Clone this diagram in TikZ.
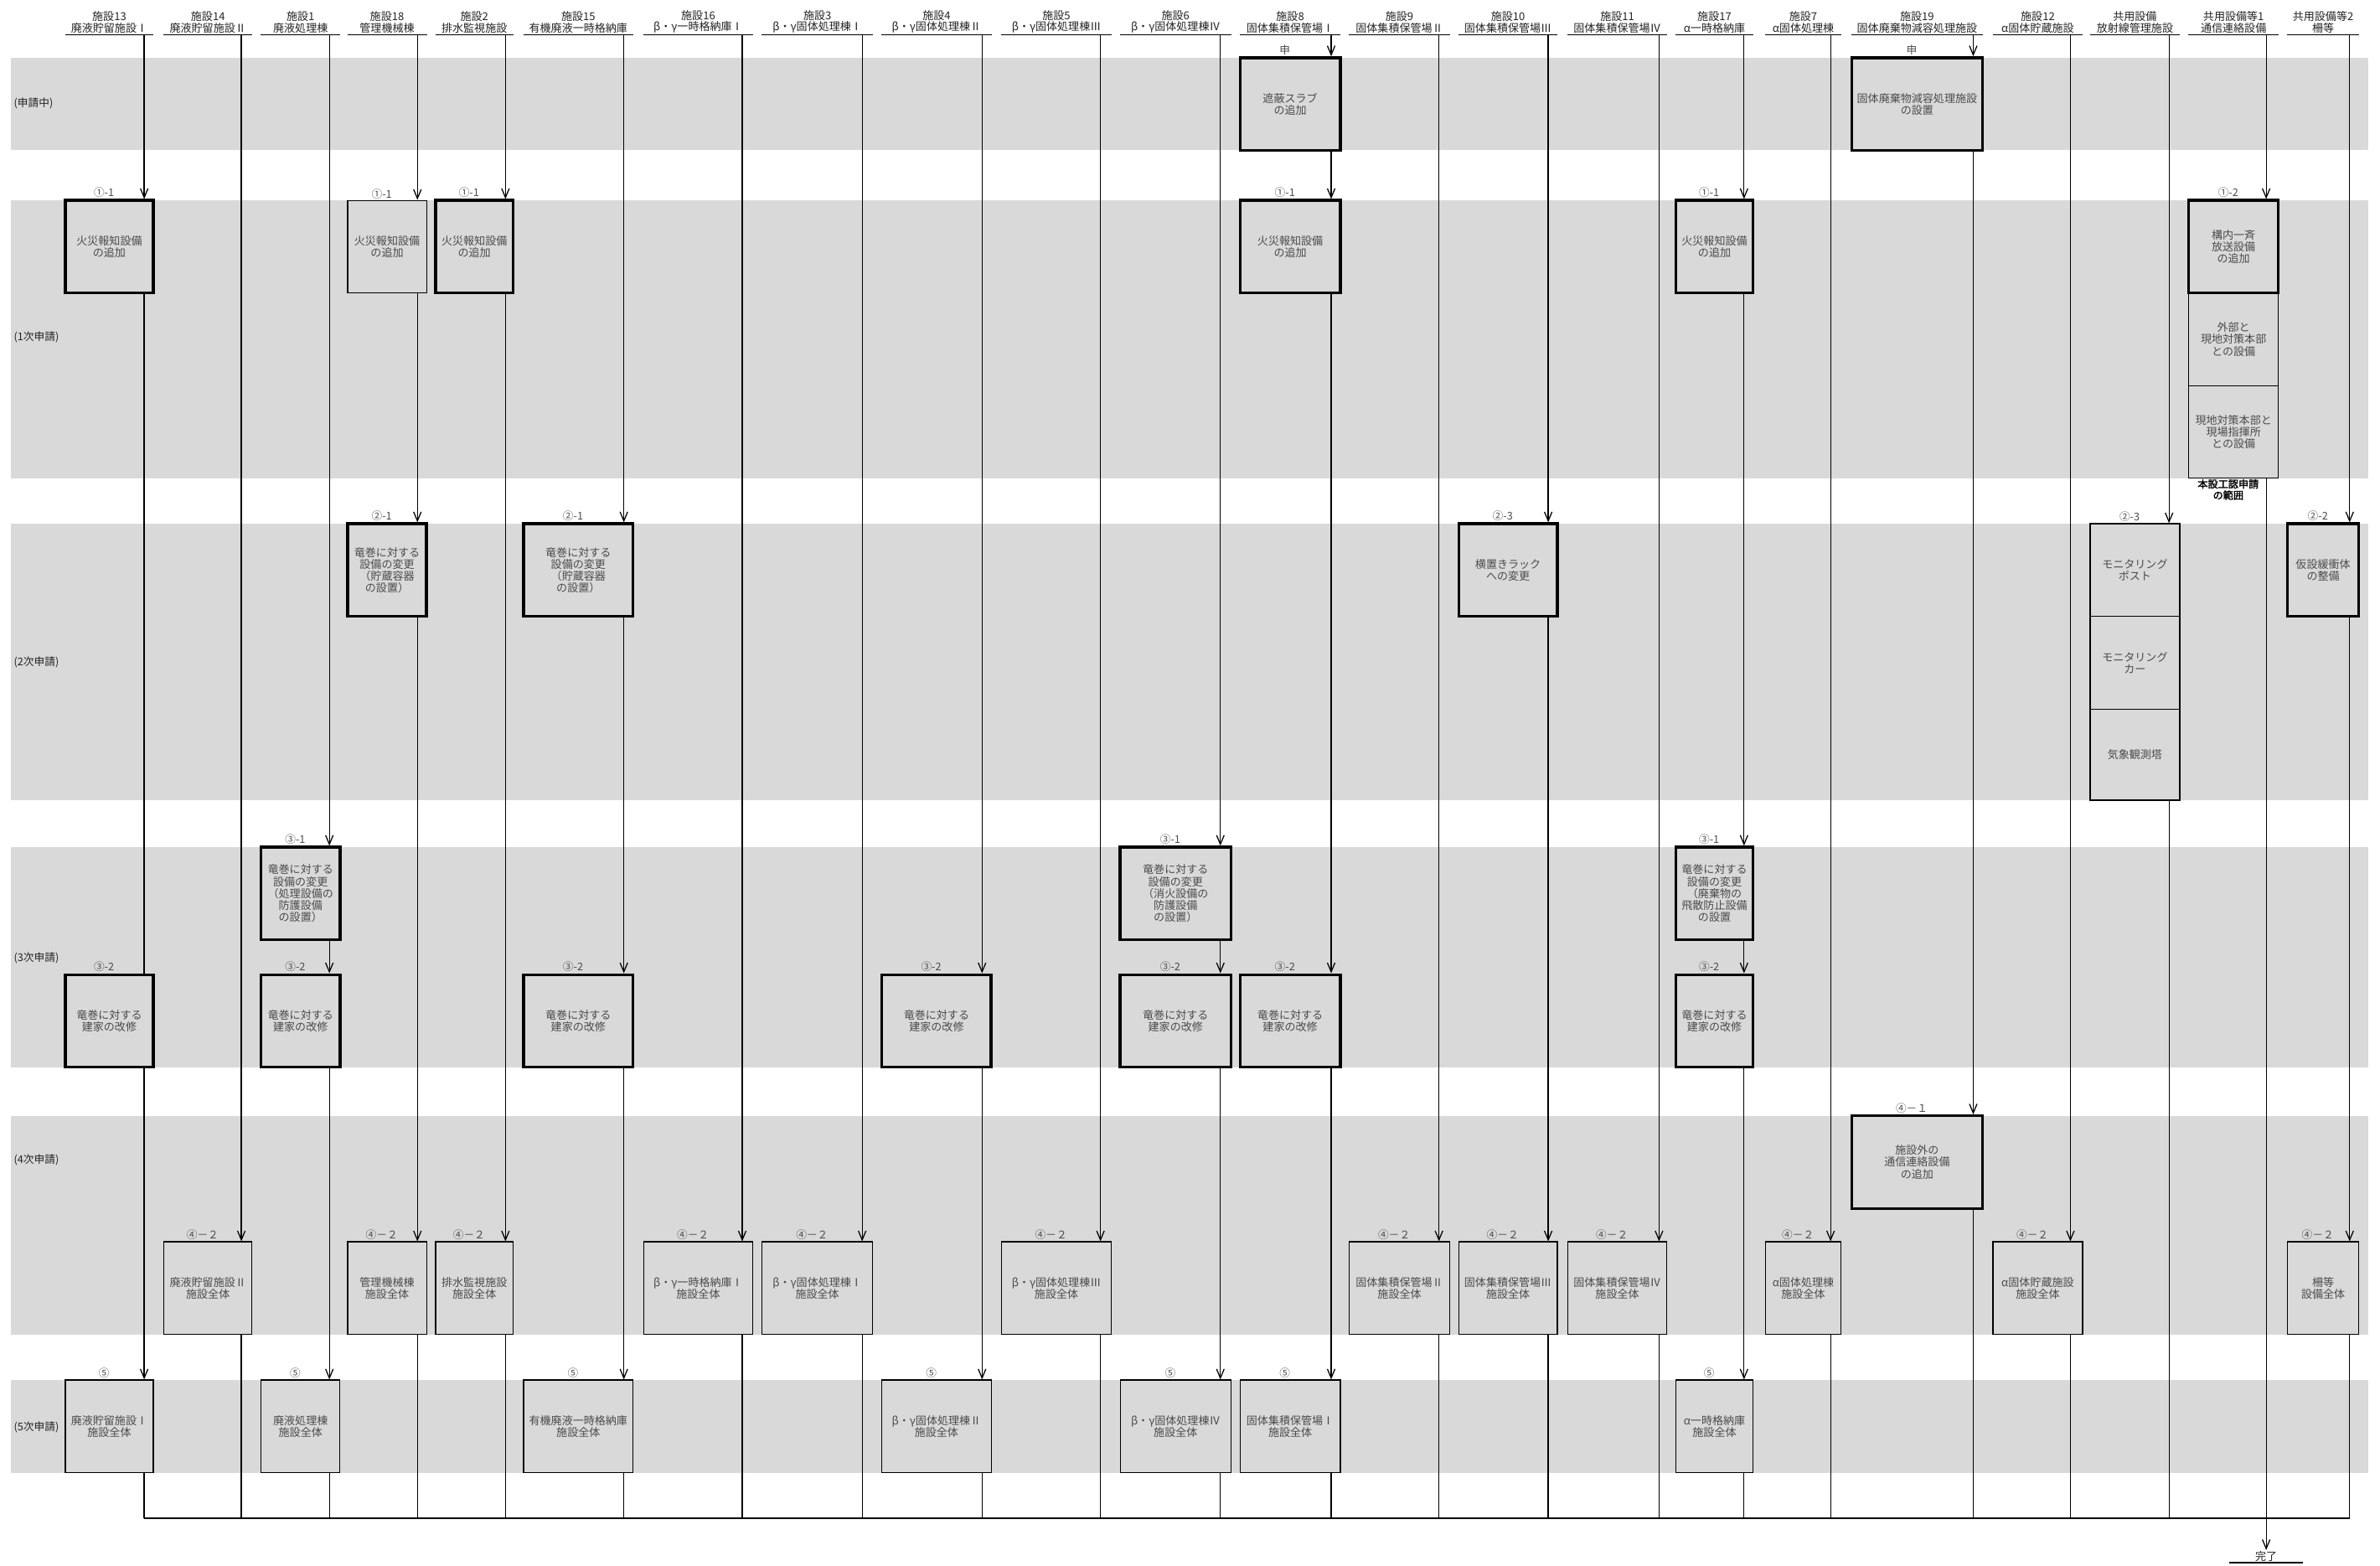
\documentclass[tikz,border=0pt]{standalone}
\usepackage{fontspec}
\setmainfont{Noto Sans CJK JP}
\newfontfamily\bfj[FakeBold=2]{Noto Sans CJK JP}
\usetikzlibrary{arrows.meta,calc}
\definecolor{band}{RGB}{217,217,217}
\definecolor{btxt}{RGB}{75,75,75}
\definecolor{htxt}{RGB}{35,35,35}
\pgfdeclarelayer{bgl}\pgfdeclarelayer{lnl}\pgfsetlayers{bgl,lnl,main}
\newcommand{\mybx}[7]{\node[#1, minimum width={(#4)-(#3)}, minimum height={(#6)-(#5)}] (#2) at ({((#3)+(#4))/2},{((#5)+(#6))/2}) {#7};}
\newcommand{\myhd}[5]{\node[hdr, minimum width={(#3)-(#2)}] (#1) at ({((#2)+(#3))/2},23) {#4\\#5};\draw[ln] (#1.south west) -- (#1.south east);}
\newcommand{\mylb}[3]{\node[lbl] (#1) at ([xshift=-3.5pt]#2.north) {#3};}
\newcommand{\mycn}[3]{\draw[ar] (#1.south -| #3) -- (#2.north -| #3);}
\newcommand{\myce}[2]{\draw[ln] (#1.south -| #2) -- (#2 |- bot);}
\begin{document}
\begin{tikzpicture}[x=1pt,y=-1pt,
  ln/.style={line width=0.7pt, black},
  ar/.style={ln, -{Straight Barb[length=6pt,width=5pt]}},
  tk/.style={draw, line width=1.9pt, fill=band, inner sep=0pt, align=center, text=btxt, font=\fontsize{7.2}{7.8}\selectfont},
  tn/.style={tk, line width=0.7pt},
  hdr/.style={anchor=south, inner xsep=0pt, inner ysep=1.2pt, align=center, text=htxt, font=\fontsize{7.2}{7.4}\selectfont},
  lbl/.style={anchor=south, inner sep=0.6pt, text=btxt, font=\fontsize{7}{7}\selectfont},
  blbl/.style={anchor=west, inner sep=0pt, text=htxt, font=\fontsize{7}{7}\selectfont}]
\useasboundingbox (0,0) rectangle (1568,1031.5);
\begin{pgfonlayer}{bgl}
\foreach \a/\b in {38/99,132/315,345/527,558/703,735/879,909/970}
  \fill[band] (7,\a) rectangle (1560,\b);
\end{pgfonlayer}
% band labels
\node[blbl] (t0) at (9,68) {(申請中)};
\node[blbl] (t1) at (9,222) {(1次申請)};
\node[blbl] (t2) at (9,436) {(2次申請)};
\node[blbl] (t3) at (9,631) {(3次申請)};
\node[blbl] (t4) at (9,764) {(4次申請)};
\node[blbl] (t5) at (9,940) {(5次申請)};
% headers
\myhd{h13}{43}{101}{施設13}{廃液貯留施設Ⅰ}
\myhd{h14}{108}{166}{施設14}{廃液貯留施設Ⅱ}
\myhd{h1}{172}{224}{施設1}{廃液処理棟}
\myhd{h18}{229}{281}{施設18}{管理機械棟}
\myhd{h2}{287}{338}{施設2}{排水監視施設}
\myhd{h15}{345}{417}{施設15}{有機廃液一時格納庫}
\myhd{h16}{424}{496}{施設16}{β・γ一時格納庫Ⅰ}
\myhd{h3}{502}{575}{施設3}{β・γ固体処理棟Ⅰ}
\myhd{h4}{581}{653}{施設4}{β・γ固体処理棟Ⅱ}
\myhd{h5}{660}{732}{施設5}{β・γ固体処理棟Ⅲ}
\myhd{h6}{738}{811}{施設6}{β・γ固体処理棟Ⅳ}
\myhd{h8}{817}{883}{施設8}{固体集積保管場Ⅰ}
\myhd{h9}{889}{955}{施設9}{固体集積保管場Ⅱ}
\myhd{h10}{961}{1026}{施設10}{固体集積保管場Ⅲ}
\myhd{h11}{1033}{1098}{施設11}{固体集積保管場Ⅳ}
\myhd{h17}{1104}{1155}{施設17}{α一時格納庫}
\myhd{h7}{1163}{1213}{施設7}{α固体処理棟}
\myhd{h19}{1220}{1306}{施設19}{固体廃棄物減容処理施設}
\myhd{h12}{1313}{1372}{施設12}{α固体貯蔵施設}
\myhd{hR}{1377}{1436}{共用設備}{放射線管理施設}
\myhd{hC1}{1442}{1501}{共用設備等1}{通信連絡設備}
\myhd{hC2}{1507}{1554}{共用設備等2}{柵等}
% column coordinates
\coordinate (bot) at (0,1000);
\coordinate (k13) at (95,0);   \coordinate (k14) at (159,0);  \coordinate (k1) at (217,0);
\coordinate (k18) at (275,0);  \coordinate (k2) at (333,0);   \coordinate (k15) at (411,0);
\coordinate (k16) at (489,0);  \coordinate (k3) at (568,0);   \coordinate (k4) at (647,0);
\coordinate (k5) at (725,0);   \coordinate (k6) at (804,0);   \coordinate (k8) at (877,0);
\coordinate (k9) at (948,0);   \coordinate (k10) at (1020,0); \coordinate (k11) at (1093,0);
\coordinate (k17) at (1149,0); \coordinate (k7) at (1206,0);  \coordinate (k19) at (1300,0);
\coordinate (k12) at (1364,0); \coordinate (kR) at (1429,0);  \coordinate (kC1) at (1493,0);
\coordinate (kC2) at (1548,0);
% band 0
\mybx{tk}{b8z}{817}{883}{38}{99}{遮蔽スラブ\\の追加}
\mybx{tk}{b19z}{1220}{1306}{38}{99}{固体廃棄物減容処理施設\\の設置}
\mylb{l8z}{b8z}{申}
\mylb{l19z}{b19z}{申}
% band 1
\mybx{tk}{b13a}{43}{101}{132}{193}{火災報知設備\\の追加}
\mybx{tn}{b18a}{229}{281}{132}{193}{火災報知設備\\の追加}
\mybx{tk}{b2a}{287}{338}{132}{193}{火災報知設備\\の追加}
\mybx{tk}{b8a}{817}{883}{132}{193}{火災報知設備\\の追加}
\mybx{tk}{b17a}{1104}{1155}{132}{193}{火災報知設備\\の追加}
\mybx{tn}{bC1b}{1442}{1501}{193}{254}{外部と\\現地対策本部\\との設備}
\mybx{tn}{bC1c}{1442}{1501}{254}{315}{現地対策本部と\\現場指揮所\\との設備}
\mybx{tk}{bC1a}{1442}{1501}{132}{193}{構内一斉\\放送設備\\の追加}
\mylb{l13a}{b13a}{①-1}
\mylb{l18a}{b18a}{①-1}
\mylb{l2a}{b2a}{①-1}
\mylb{l8a}{b8a}{①-1}
\mylb{l17a}{b17a}{①-1}
\mylb{lC1a}{bC1a}{①-2}
\node[align=center, inner sep=0pt, font=\bfj\fontsize{6.7}{7.4}\selectfont] (hani) at (1468,322.5) {本設工認申請\\の範囲};
% band 2
\mybx{tk}{b18b}{229}{281}{345}{406}{竜巻に対する\\設備の変更\\（貯蔵容器\\の設置）}
\mybx{tk}{b15b}{345}{417}{345}{406}{竜巻に対する\\設備の変更\\（貯蔵容器\\の設置）}
\mybx{tk}{b10b}{961}{1026}{345}{406}{横置きラック\\への変更}
\mybx{tn}{bRa}{1377}{1436}{345}{406}{モニタリング\\ポスト}
\mybx{tn}{bRb}{1377}{1436}{406}{467}{モニタリング\\カー}
\mybx{tn}{bRc}{1377}{1436}{467}{527}{気象観測塔}
\mybx{tk}{bC2b}{1507}{1554}{345}{406}{仮設緩衝体\\の整備}
\mylb{l18b}{b18b}{②-1}
\mylb{l15b}{b15b}{②-1}
\mylb{l10b}{b10b}{②-3}
\mylb{lRa}{bRa}{②-3}
\mylb{lC2b}{bC2b}{②-2}
% band 3
\mybx{tk}{b1c}{172}{224}{558}{619}{竜巻に対する\\設備の変更\\（処理設備の\\防護設備\\の設置）}
\mybx{tk}{b6c}{738}{811}{558}{619}{竜巻に対する\\設備の変更\\（消火設備の\\防護設備\\の設置）}
\mybx{tk}{b17c}{1104}{1155}{558}{619}{竜巻に対する\\設備の変更\\（廃棄物の\\飛散防止設備\\の設置}
\mylb{l1c}{b1c}{③-1}
\mylb{l6c}{b6c}{③-1}
\mylb{l17c}{b17c}{③-1}
\mybx{tk}{b13d}{43}{101}{642}{703}{竜巻に対する\\建家の改修}
\mybx{tk}{b1d}{172}{224}{642}{703}{竜巻に対する\\建家の改修}
\mybx{tk}{b15d}{345}{417}{642}{703}{竜巻に対する\\建家の改修}
\mybx{tk}{b4d}{581}{653}{642}{703}{竜巻に対する\\建家の改修}
\mybx{tk}{b6d}{738}{811}{642}{703}{竜巻に対する\\建家の改修}
\mybx{tk}{b8d}{817}{883}{642}{703}{竜巻に対する\\建家の改修}
\mybx{tk}{b17d}{1104}{1155}{642}{703}{竜巻に対する\\建家の改修}
\mylb{l13d}{b13d}{③-2}
\mylb{l1d}{b1d}{③-2}
\mylb{l15d}{b15d}{③-2}
\mylb{l4d}{b4d}{③-2}
\mylb{l6d}{b6d}{③-2}
\mylb{l8d}{b8d}{③-2}
\mylb{l17d}{b17d}{③-2}
% band 4
\mybx{tk}{b19e}{1220}{1306}{735}{796}{施設外の\\通信連絡設備\\の追加}
\mylb{l19e}{b19e}{④－１}
\mybx{tn}{b14f}{108}{166}{818}{879}{廃液貯留施設Ⅱ\\施設全体}
\mybx{tn}{b18f}{229}{281}{818}{879}{管理機械棟\\施設全体}
\mybx{tn}{b2f}{287}{338}{818}{879}{排水監視施設\\施設全体}
\mybx{tn}{b16f}{424}{496}{818}{879}{β・γ一時格納庫Ⅰ\\施設全体}
\mybx{tn}{b3f}{502}{575}{818}{879}{β・γ固体処理棟Ⅰ\\施設全体}
\mybx{tn}{b5f}{660}{732}{818}{879}{β・γ固体処理棟Ⅲ\\施設全体}
\mybx{tn}{b9f}{889}{955}{818}{879}{固体集積保管場Ⅱ\\施設全体}
\mybx{tn}{b10f}{961}{1026}{818}{879}{固体集積保管場Ⅲ\\施設全体}
\mybx{tn}{b11f}{1033}{1098}{818}{879}{固体集積保管場Ⅳ\\施設全体}
\mybx{tn}{b7f}{1163}{1213}{818}{879}{α固体処理棟\\施設全体}
\mybx{tn}{b12f}{1313}{1372}{818}{879}{α固体貯蔵施設\\施設全体}
\mybx{tn}{bC2f}{1507}{1554}{818}{879}{柵等\\設備全体}
\mylb{l14f}{b14f}{④－２}
\mylb{l18f}{b18f}{④－２}
\mylb{l2f}{b2f}{④－２}
\mylb{l16f}{b16f}{④－２}
\mylb{l3f}{b3f}{④－２}
\mylb{l5f}{b5f}{④－２}
\mylb{l9f}{b9f}{④－２}
\mylb{l10f}{b10f}{④－２}
\mylb{l11f}{b11f}{④－２}
\mylb{l7f}{b7f}{④－２}
\mylb{l12f}{b12f}{④－２}
\mylb{lC2f}{bC2f}{④－２}
% band 5
\mybx{tn}{b13g}{43}{101}{909}{970}{廃液貯留施設Ⅰ\\施設全体}
\mybx{tn}{b1g}{172}{224}{909}{970}{廃液処理棟\\施設全体}
\mybx{tn}{b15g}{345}{417}{909}{970}{有機廃液一時格納庫\\施設全体}
\mybx{tn}{b4g}{581}{653}{909}{970}{β・γ固体処理棟Ⅱ\\施設全体}
\mybx{tn}{b6g}{738}{811}{909}{970}{β・γ固体処理棟Ⅳ\\施設全体}
\mybx{tn}{b8g}{817}{883}{909}{970}{固体集積保管場Ⅰ\\施設全体}
\mybx{tn}{b17g}{1104}{1155}{909}{970}{α一時格納庫\\施設全体}
\mylb{l13g}{b13g}{⑤}
\mylb{l1g}{b1g}{⑤}
\mylb{l15g}{b15g}{⑤}
\mylb{l4g}{b4g}{⑤}
\mylb{l6g}{b6g}{⑤}
\mylb{l8g}{b8g}{⑤}
\mylb{l17g}{b17g}{⑤}
% end node
\node[hdr, anchor=north, inner ysep=0.6pt, minimum width=48] (done) at (1493,1021) {完了};
\draw[ln] (done.south west) -- (done.south east);
% connectors
\begin{pgfonlayer}{lnl}
\mycn{h13}{b13a}{k13} \mycn{b13a}{b13g}{k13} \myce{b13g}{k13}
\mycn{h14}{b14f}{k14} \myce{b14f}{k14}
\mycn{h1}{b1c}{k1} \mycn{b1c}{b1d}{k1} \mycn{b1d}{b1g}{k1} \myce{b1g}{k1}
\mycn{h18}{b18a}{k18} \mycn{b18a}{b18b}{k18} \mycn{b18b}{b18f}{k18} \myce{b18f}{k18}
\mycn{h2}{b2a}{k2} \mycn{b2a}{b2f}{k2} \myce{b2f}{k2}
\mycn{h15}{b15b}{k15} \mycn{b15b}{b15d}{k15} \mycn{b15d}{b15g}{k15} \myce{b15g}{k15}
\mycn{h16}{b16f}{k16} \myce{b16f}{k16}
\mycn{h3}{b3f}{k3} \myce{b3f}{k3}
\mycn{h4}{b4d}{k4} \mycn{b4d}{b4g}{k4} \myce{b4g}{k4}
\mycn{h5}{b5f}{k5} \myce{b5f}{k5}
\mycn{h6}{b6c}{k6} \mycn{b6c}{b6d}{k6} \mycn{b6d}{b6g}{k6} \myce{b6g}{k6}
\mycn{h8}{b8z}{k8} \mycn{b8z}{b8a}{k8} \mycn{b8a}{b8d}{k8} \mycn{b8d}{b8g}{k8} \myce{b8g}{k8}
\mycn{h9}{b9f}{k9} \myce{b9f}{k9}
\mycn{h10}{b10b}{k10} \mycn{b10b}{b10f}{k10} \myce{b10f}{k10}
\mycn{h11}{b11f}{k11} \myce{b11f}{k11}
\mycn{h17}{b17a}{k17} \mycn{b17a}{b17c}{k17} \mycn{b17c}{b17d}{k17} \mycn{b17d}{b17g}{k17} \myce{b17g}{k17}
\mycn{h7}{b7f}{k7} \myce{b7f}{k7}
\mycn{h19}{b19z}{k19} \mycn{b19z}{b19e}{k19} \myce{b19e}{k19}
\mycn{h12}{b12f}{k12} \myce{b12f}{k12}
\mycn{hR}{bRa}{kR} \myce{bRc}{kR}
\mycn{hC1}{bC1a}{kC1} \mycn{bC1c}{done}{kC1}
\mycn{hC2}{bC2b}{kC2} \mycn{bC2b}{bC2f}{kC2} \myce{bC2f}{kC2}
\draw[ln] (k13 |- bot) -- (kC2 |- bot);
\end{pgfonlayer}
\end{tikzpicture}
\end{document}
